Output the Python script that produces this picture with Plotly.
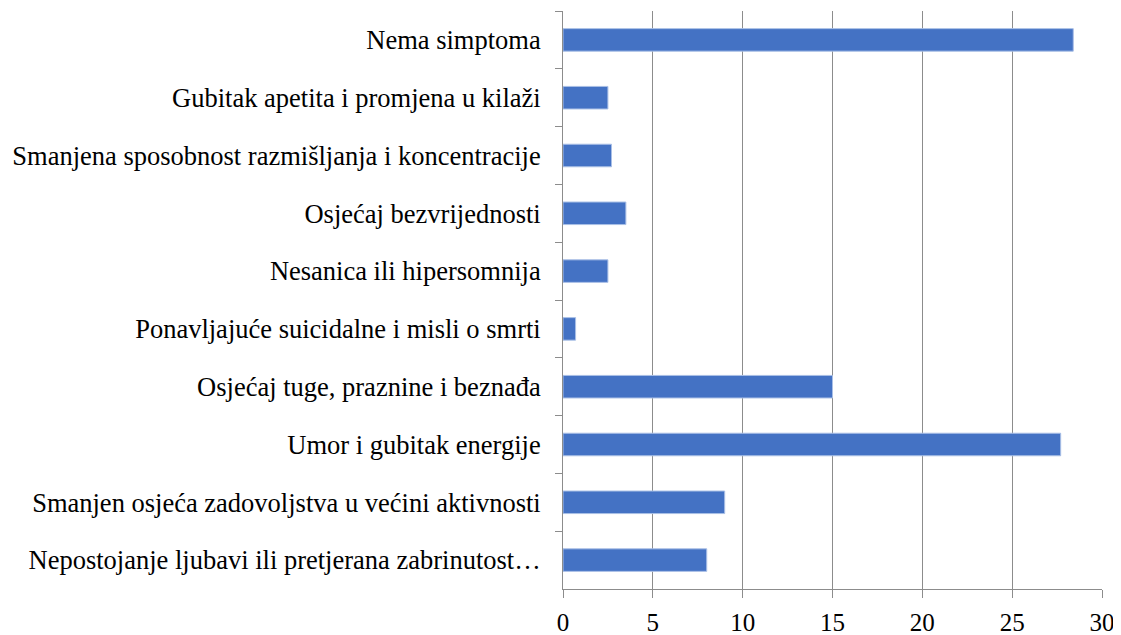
import plotly.graph_objects as go

# categories listed top to bottom as in the chart
categories = [
    "Nema simptoma",
    "Gubitak apetita i promjena u kilaži",
    "Smanjena sposobnost razmišljanja i koncentracije",
    "Osjećaj bezvrijednosti",
    "Nesanica ili hipersomnija",
    "Ponavljajuće suicidalne i misli o smrti",
    "Osjećaj tuge, praznine i beznađa",
    "Umor i gubitak energije",
    "Smanjen osjeća zadovoljstva u većini aktivnosti",
    "Nepostojanje ljubavi ili pretjerana zabrinutost…",
]
values = [28.4, 2.5, 2.7, 3.5, 2.5, 0.7, 15.0, 27.7, 9.0, 8.0]
x_ticks = [0, 5, 10, 15, 20, 25, 30]

font = "Liberation Serif"

fig = go.Figure(go.Bar(
    x=values, y=categories, orientation="h",
    marker=dict(color="#4472C4", line=dict(color="#A9BFE6", width=1)),
    width=0.39,
))

# page body has an 8px margin, so the figure is a little smaller than the window
fig.update_layout(
    width=1113, height=627,
    margin=dict(l=555, r=19, t=3, b=46),
    plot_bgcolor="white", paper_bgcolor="white",
    font=dict(family=font, size=25, color="black"),
    showlegend=False,
)
fig.update_xaxes(
    range=[0, 30], tickvals=x_ticks, automargin=False,
    showgrid=True, gridcolor="#8C8C8C", gridwidth=1,
    showline=True, linecolor="#8C8C8C", linewidth=1,
    ticks="outside", ticklen=8, tickcolor="#8C8C8C",
    ticklabelstandoff=3,
    zeroline=False, tickfont=dict(family=font, size=25),
)
fig.update_yaxes(
    autorange="reversed", showgrid=False, automargin=False,
    showline=True, linecolor="#8C8C8C", linewidth=1,
    ticks="outside", ticklen=7, tickcolor="#8C8C8C",
    tickson="boundaries", ticklabelstandoff=16,
    tickfont=dict(family=font, size=26.5),
)

fig.write_html("out.html")
